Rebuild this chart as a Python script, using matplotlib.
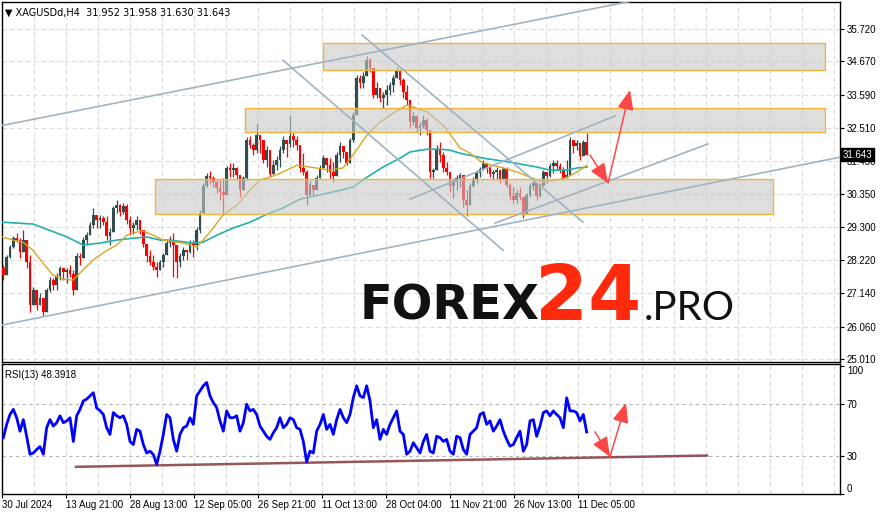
import matplotlib
matplotlib.use("Agg")
import matplotlib.pyplot as plt
import matplotlib.transforms as mtransforms
from matplotlib.patches import Rectangle
import numpy as np

# XAGUSD H4, values (one candle here ~ 3.3 H4 bars)
highs = [
    28.06, 28.38, 28.71, 29.00, 29.10, 28.93, 29.19, 28.71, 28.38, 27.34,
    27.18, 27.15, 26.92, 27.31, 27.67, 27.64, 27.80, 28.03, 27.96, 27.96,
    28.06, 27.90, 28.45, 28.45, 28.97, 29.13, 29.45, 29.91, 29.68, 29.68,
    29.65, 29.65, 29.26, 29.97, 30.17, 30.04, 30.07, 30.04, 29.65, 29.45,
    29.65, 29.52, 29.19, 28.74, 28.54, 28.38, 28.15, 28.22, 28.45, 28.87,
    29.00, 29.10, 28.32, 28.45, 28.64, 28.54, 28.87, 28.87, 29.29, 29.84,
    30.72, 31.04, 31.11, 30.95, 30.82, 30.82, 30.88, 31.27, 31.37, 31.37,
    31.24, 30.95, 30.95, 32.21, 32.25, 32.02, 32.67, 32.25, 32.02, 31.92,
    31.47, 31.47, 31.60, 31.92, 32.25, 32.12, 32.93, 32.34, 32.25, 31.92,
    31.69, 31.14, 30.79, 30.66, 30.98, 31.30, 31.63, 31.53, 31.53, 31.40,
    31.73, 32.05, 31.86, 31.69, 32.18, 33.03, 34.23, 34.23, 34.32, 34.84,
    34.78, 34.23, 34.00, 33.80, 33.67, 33.90, 34.00, 34.23, 34.49, 34.32,
    34.13, 33.90, 33.03, 33.03, 32.93, 32.70, 32.93, 32.83, 32.38, 31.21,
    31.95, 32.05, 31.73, 31.40, 30.98, 30.88, 30.98, 31.04, 30.72, 30.49,
    30.72, 30.91, 31.14, 31.24, 31.47, 31.37, 31.27, 31.14, 31.24, 31.14,
    31.24, 31.24, 30.72, 30.59, 30.49, 30.59, 30.17, 30.40, 30.72, 30.82,
    30.72, 30.72, 31.14, 31.04, 31.37, 31.47, 31.47, 31.37, 31.24, 31.47,
    32.21, 32.02, 32.12, 32.02, 32.12, 32.34]
lows = [
    27.57, 27.96, 28.29, 28.61, 28.80, 28.29, 28.61, 27.96, 26.53, 26.86,
    26.60, 26.76, 26.40, 26.92, 27.18, 27.25, 27.25, 27.57, 27.57, 27.47,
    27.67, 27.08, 27.64, 28.06, 28.38, 28.71, 29.03, 29.26, 29.26, 29.26,
    29.36, 28.87, 28.71, 29.52, 29.75, 29.65, 29.71, 29.39, 29.06, 29.06,
    29.19, 29.06, 28.64, 28.15, 28.06, 27.90, 27.67, 27.90, 27.99, 28.54,
    28.64, 27.67, 27.64, 27.99, 28.22, 28.22, 28.45, 28.32, 28.54, 29.10,
    29.84, 30.59, 30.69, 30.59, 30.40, 30.17, 29.68, 30.66, 30.91, 30.91,
    30.82, 30.27, 30.69, 30.82, 31.86, 31.63, 31.69, 31.69, 31.37, 31.24,
    30.91, 31.04, 31.14, 31.24, 31.69, 31.56, 31.89, 31.89, 31.79, 31.08,
    30.98, 30.01, 30.33, 30.33, 30.56, 30.88, 31.21, 31.08, 30.88, 30.75,
    31.30, 31.40, 31.53, 31.30, 31.63, 32.05, 33.51, 33.80, 33.80, 34.32,
    34.32, 33.48, 33.48, 33.35, 33.16, 33.25, 33.58, 33.67, 34.13, 33.90,
    33.48, 33.25, 32.51, 32.60, 32.38, 32.28, 32.51, 32.28, 30.88, 30.88,
    31.21, 31.40, 31.08, 30.98, 30.43, 30.23, 30.49, 30.59, 29.94, 29.65,
    30.17, 30.59, 30.72, 30.91, 31.14, 31.04, 30.91, 30.82, 30.82, 30.72,
    30.91, 30.59, 30.17, 30.07, 30.07, 30.17, 29.58, 29.94, 30.27, 30.49,
    30.17, 30.27, 30.72, 30.72, 30.91, 31.04, 31.14, 31.04, 30.82, 30.91,
    31.47, 31.69, 31.79, 31.47, 31.69, 31.63]
closes = [
    27.73, 28.32, 28.64, 28.93, 28.87, 28.48, 28.87, 28.15, 26.76, 27.25,
    26.76, 26.99, 26.53, 27.25, 27.57, 27.41, 27.70, 27.96, 27.83, 27.90,
    27.77, 27.25, 28.35, 28.29, 28.87, 29.03, 29.36, 29.68, 29.52, 29.58,
    29.45, 29.00, 29.13, 29.91, 30.01, 29.78, 29.97, 29.52, 29.26, 29.36,
    29.52, 29.19, 28.74, 28.35, 28.15, 27.99, 27.90, 28.15, 28.38, 28.77,
    28.87, 28.71, 28.15, 28.35, 28.54, 28.48, 28.77, 28.71, 29.19, 29.75,
    30.62, 30.95, 30.88, 30.75, 30.56, 30.43, 30.33, 31.21, 31.14, 31.21,
    30.98, 30.49, 30.88, 32.12, 31.95, 31.79, 32.28, 32.12, 31.47, 31.79,
    31.01, 31.30, 31.47, 31.79, 32.12, 31.99, 32.25, 32.12, 31.95, 31.21,
    31.08, 30.33, 30.66, 30.49, 30.88, 31.21, 31.53, 31.30, 31.08, 30.95,
    31.63, 31.92, 31.73, 31.37, 32.12, 32.93, 34.13, 33.97, 34.19, 34.71,
    34.47, 33.58, 33.80, 33.48, 33.58, 33.74, 33.90, 34.13, 34.39, 34.06,
    33.67, 33.41, 32.70, 32.90, 32.51, 32.57, 32.77, 32.44, 31.08, 31.14,
    31.79, 31.63, 31.21, 31.08, 30.62, 30.75, 30.88, 30.98, 30.17, 30.01,
    30.62, 30.85, 31.04, 31.17, 31.37, 31.21, 31.01, 31.08, 31.14, 30.82,
    31.17, 30.66, 30.30, 30.17, 30.40, 30.27, 29.71, 30.33, 30.62, 30.72,
    30.30, 30.62, 31.08, 30.95, 31.27, 31.37, 31.27, 31.14, 30.88, 30.98,
    32.12, 31.92, 32.02, 31.60, 32.05, 31.64]
first_open = 27.96

rsi = [
    43.9, 54.3, 62, 66, 59.5, 49, 58, 45, 31, 32,
    34.7, 37, 31, 51.7, 58, 53, 55.6, 61, 55.6, 57,
    59.5, 41, 61, 66, 72.6, 74, 76.5, 79, 67, 65,
    62, 51.7, 46.5, 63.5, 61, 59.5, 61, 54.3, 41, 38.6,
    50.4, 49, 38.6, 32, 33.4, 30.8, 23, 33.4, 46.5, 62,
    59.5, 42.6, 33.4, 46.5, 51.7, 53, 59.5, 54.3, 76.5, 80.5,
    84.4, 87, 76.5, 71.3, 67.4, 57, 49, 64.8, 59.5, 59.5,
    61, 49, 55.6, 70, 64.8, 66, 62, 53, 49, 45,
    42.6, 47.8, 51.7, 59.5, 51.7, 54.3, 59.5, 58, 51.7, 50.4,
    41, 25, 33.4, 32, 49, 54.3, 62, 50.4, 54.3, 46.5,
    58, 66, 59.5, 55.6, 62, 75.2, 84.4, 76.5, 75.2, 84.4,
    72.6, 51.7, 58, 42.6, 50.4, 46.5, 54.3, 59.5, 64.8, 49,
    46.5, 31, 33.4, 40, 36, 32, 41, 46.5, 33.4, 32,
    45, 44, 41, 42.6, 33.4, 31, 45, 44, 34.7, 31,
    46.5, 49, 51.7, 62, 63.5, 54.3, 57, 49, 53, 58,
    49, 42.6, 37.3, 38.6, 44, 49, 33.4, 38.6, 57, 58,
    45, 53, 63.5, 64.8, 61, 64.8, 62, 59.5, 51.7, 75,
    64.8, 64.8, 63.5, 57, 62, 48.4]

# moving averages (fast = orange, slow = teal), sampled along the chart
fast_x = [-0.4, 2.9, 5.9, 8.9, 11.9, 14.9, 17.9, 20.9, 23.9, 26.9, 31.1, 34.1, 37.1,
          40.1, 41.9, 44.9, 47.9, 53.9, 58.1, 62.0, 65.9, 70.1, 74.0, 77.0, 80.0,
          83.9, 88.1, 92.0, 98.0, 101.9, 104.9, 109.1, 113.0, 116.9, 121.1, 122.9,
          127.1, 131.9, 134.9, 137.0, 140.0, 143.9, 149.0, 154.1, 158.0, 161.9,
          166.1, 169.1, 172.1, 175.1]
fast_v = [28.97, 28.87, 28.80, 28.54, 28.12, 27.73, 27.60, 27.57, 27.90, 28.22, 28.54,
          28.71, 29.03, 29.13, 29.16, 29.03, 28.87, 28.77, 28.64, 29.13, 29.68, 30.01,
          30.49, 30.82, 30.91, 31.08, 31.30, 31.24, 31.14, 31.21, 31.63, 32.28, 32.70,
          32.99, 33.25, 33.19, 33.03, 32.60, 32.18, 31.86, 31.69, 31.37, 31.24, 31.08,
          30.91, 30.75, 30.82, 30.91, 31.08, 31.30]
slow_x = [-0.4, 8.9, 19.1, 23.9, 29.0, 34.1, 38.9, 43.1, 47.0, 50.0, 56.9, 59.9, 64.1,
          68.9, 74.0, 79.1, 83.9, 89.0, 98.9, 104.9, 109.1, 113.9, 119.0, 122.0,
          127.1, 131.0, 134.0, 137.0, 143.9, 152.0, 160.1, 164.0, 169.1, 172.1, 175.1]
slow_v = [29.45, 29.39, 28.97, 28.71, 28.77, 28.87, 28.93, 28.97, 28.87, 28.87, 28.77,
          28.80, 29.03, 29.26, 29.45, 29.71, 29.91, 30.20, 30.43, 30.59, 30.91, 31.24,
          31.53, 31.73, 31.82, 31.82, 31.79, 31.69, 31.53, 31.40, 31.24, 31.14, 31.14,
          31.21, 31.24]

# drawn objects: zones (x0, x1, p0, p1), trend lines, forecast arrows
zones = [(95.9, 246.5, 34.39, 35.27),
         (72.5, 246.5, 32.38, 33.16),
         (45.5, 230.9, 29.71, 30.85)]
trend_lines = [((-0.4, 32.59), (189.5, 36.65)),
               ((-0.4, 26.11), (251.0, 31.56)),
               ((83.9, 34.71), (149.9, 28.54)),
               ((107.6, 35.53), (173.9, 29.45)),
               ((122.0, 30.20), (183.5, 32.90)),
               ((147.5, 29.42), (211.4, 31.99))]
price_path = [(176.0, 31.63), (181.4, 30.72), (188.0, 33.74)]
rsi_path = [(177.5, 48.5), (182.0, 29.0), (186.8, 71.0)]
rsi_support = [(21.8, 21.2), (211.1, 30.0)]

price_ticks = [35.72, 34.67, 33.59, 32.51, 31.43, 30.35, 29.30, 28.22, 27.14, 26.06, 25.01]
date_labels = ["30 Jul 2024", "13 Aug 21:00", "28 Aug 13:00", "12 Sep 05:00",
               "26 Sep 21:00", "11 Oct 13:00", "28 Oct 04:00", "11 Nov 21:00",
               "26 Nov 13:00", "11 Dec 05:00"]
last_price = 31.643
label_every = 19.2  # candles between two date labels

plt.rcParams['font.family'] = ['Liberation Sans', 'DejaVu Sans']

fig = plt.figure(figsize=(8.86, 5.15), dpi=100)
ax = fig.add_axes([2 / 886, 1 - 362 / 515, 838 / 886, 360 / 515])
ax2 = fig.add_axes([2 / 886, 1 - 494 / 515, 838 / 886, 130 / 515], sharex=ax)

x = np.arange(len(closes))
c = np.array(closes)
o = np.r_[first_open, c[:-1]]
col = np.where(c >= o, '#2f4f4f', '#ff0000')
lo = np.minimum(np.array(lows), np.minimum(o, c))
hi = np.maximum(np.array(highs), np.maximum(o, c))

# grid
grid_pos = [-0.4 + k * label_every / 2 for k in range(1, 27)]
for a in (ax, ax2):
    for gx in grid_pos:
        a.axvline(gx, color='#dcdcdc', lw=0.8, ls=(0, (4, 3)), zorder=0.5)
for p in price_ticks:
    ax.axhline(p, color='#dcdcdc', lw=0.8, ls=(0, (4, 3)), zorder=0.5)

ax.vlines(x, lo, hi, colors=col, lw=0.9, zorder=3)
ax.bar(x, np.maximum(np.abs(c - o), 0.02), bottom=np.minimum(o, c), width=0.75,
       color=col, linewidth=0, zorder=3)

ax.plot(slow_x, slow_v, color='#20b2aa', lw=1.2, zorder=3.5)
ax.plot(fast_x, fast_v, color='#daa520', lw=1.0, zorder=3.5)

for x0, x1, p0, p1 in zones:
    ax.add_patch(Rectangle((x0, p0), x1 - x0, p1 - p0, facecolor='#c8c8c8',
                           alpha=0.6, lw=0, zorder=4))
    ax.add_patch(Rectangle((x0, p0), x1 - x0, p1 - p0, fill=False,
                           edgecolor='#f2b33d', lw=1.0, zorder=4.1))

for (x0, p0), (x1, p1) in trend_lines:
    ax.plot([x0, x1], [p0, p1], color='#9fb3c3', lw=1.2, zorder=5)

arrow_kw = dict(arrowstyle='-|>,head_length=0.6,head_width=0.25', color='#ff4747',
                lw=1.1, shrinkA=0, shrinkB=0, mutation_scale=20)
for a, path in ((ax, price_path), (ax2, rsi_path)):
    for s, e in zip(path[:-1], path[1:]):
        a.annotate('', xy=e, xytext=s, arrowprops=arrow_kw, zorder=6)

ax.set_xlim(-0.4, 251.0)
ax.set_ylim(24.91, 36.60)
ax.yaxis.tick_right()
ax.set_yticks(price_ticks)
ax.set_yticklabels([f"{p:.3f}" for p in price_ticks])
ax.tick_params(axis='y', labelsize=7, length=3, pad=2, width=0.8)
ax.tick_params(axis='x', bottom=False, labelbottom=False)

trans = mtransforms.blended_transform_factory(ax.transAxes, ax.transData)
ax.text(1.003, last_price, f"{last_price:.3f}", transform=trans, color='white',
        fontsize=7, va='center', ha='left', clip_on=False, zorder=10,
        bbox=dict(boxstyle='square,pad=0.15', fc='black', ec='black'))
ax.text(0.004, 0.985, "\u25bc XAGUSDd,H4  31.952 31.958 31.630 31.643",
        transform=ax.transAxes, fontsize=7, va='top', ha='left',
        family=['DejaVu Sans'])

# RSI panel
ax2.plot(x, rsi, color='#0000ff', lw=2, zorder=4)
ax2.plot(*zip(*rsi_support), color='#84393b', lw=1.8, zorder=3.5, alpha=0.85)
for lvl in (70, 30):
    ax2.axhline(lvl, color='#b4b4b4', lw=0.8, ls=(0, (3, 3)), zorder=1)
ax2.set_ylim(0.2, 101.4)
ax2.yaxis.tick_right()
ax2.set_yticks([100, 70, 30, 0])
ax2.set_yticklabels(['100', '70', '30', '0'])
ax2.tick_params(axis='y', labelsize=7, length=3, pad=2, width=0.8)
ylab = ax2.get_yticklabels()
ylab[0].set_va('top')
ylab[3].set_va('bottom')
ax2.set_xticks([-0.4 + k * label_every for k in range(len(date_labels))])
ax2.set_xticklabels(date_labels, ha='left')
ax2.tick_params(axis='x', labelsize=7, length=3, pad=1, width=0.8)
ax2.text(0.004, 0.95, "RSI(13) 48.3918", transform=ax2.transAxes, fontsize=7,
         va='top', ha='left')

for a in (ax, ax2):
    for sp in a.spines.values():
        sp.set_linewidth(1.0)
        sp.set_color('black')

# watermark
fig.text(360 / 886, 1 - 320 / 515, "FOREX", fontsize=34.5, fontweight='bold',
         color='#111111', family=['DejaVu Sans'], va='baseline', ha='left', zorder=20)
fig.text(535 / 886, 1 - 320 / 515, "24", fontsize=55, fontweight='bold',
         color='#ff2a0c', family=['DejaVu Sans'], va='baseline', ha='left', zorder=20)
fig.text(644 / 886, 1 - 320 / 515, ".PRO", fontsize=29, fontweight='normal',
         color='#111111', family=['Lato', 'DejaVu Sans'], va='baseline', ha='left', zorder=20)

fig.savefig('out.png', dpi=100)
